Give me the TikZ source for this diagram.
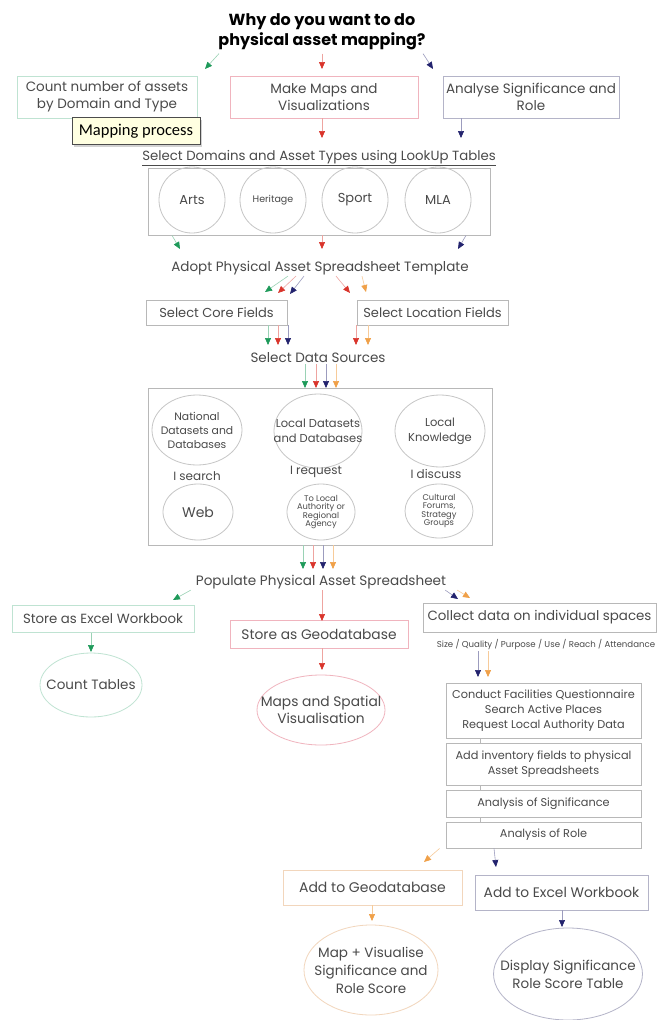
\documentclass[tikz,border=0pt]{standalone}
\usepackage{fontspec}
\setmainfont{Poppins}
\newfontfamily\tipfont{Carlito}
\usetikzlibrary{shapes.geometric,arrows.meta,shadows}
\definecolor{cg}{HTML}{1E9A5A}
\definecolor{cr}{HTML}{D9342B}
\definecolor{cn}{HTML}{23236E}
\definecolor{co}{HTML}{F0A048}
\definecolor{txt}{HTML}{4A4A4A}
\definecolor{bgray}{HTML}{B8B8B8}
\definecolor{bmint}{HTML}{BFE3D2}
\definecolor{bpink}{HTML}{F0B4BE}
\definecolor{bnavy}{HTML}{B4B4C8}
\definecolor{bpeach}{HTML}{F2D6BC}
\definecolor{tipbg}{HTML}{FFFFE1}
\newcommand\fsz[2]{\fontsize{#1}{#2}\selectfont}
\tikzset{
  box/.style={draw=bgray, line width=0.8pt, rectangle, align=center, text=txt, inner sep=0pt},
  ell/.style={draw=bgray!80, line width=0.8pt, ellipse, align=center, text=txt, inner sep=-15pt},
  lbl/.style={align=center, text=txt, inner sep=1pt},
  tip/.style={line width=0.6pt},
  ag/.style={tip, draw=cg!45, -{Triangle[length=7pt,width=6pt,fill=cg,color=cg]}},
  ar/.style={tip, draw=cr!45, -{Triangle[length=7pt,width=6pt,fill=cr,color=cr]}},
  an/.style={tip, draw=cn!45, -{Triangle[length=7pt,width=6pt,fill=cn,color=cn]}},
  ao/.style={tip, draw=co!55, -{Triangle[length=7pt,width=6pt,fill=co,color=co]}},
  link/.style={draw=bgray, line width=0.6pt},
}
\begin{document}
\begin{tikzpicture}[x=1pt,y=-1pt]
\useasboundingbox (0,0) rectangle (658,1020);
\fill[white] (0,0) rectangle (658,1020);

% title
\node[align=center, font=\bfseries\fsz{16}{20}] (title) at (322,32) {Why do you want to do\\physical asset mapping?};

% top boxes
\node[box, draw=bmint, minimum width=180, minimum height=42, font=\fsz{13.5}{17}] (b1) at (107,97) {Count number of assets\\by Domain and Type};
\node[box, draw=bpink, minimum width=188, minimum height=42, font=\fsz{13.5}{17}] (b2) at (324,97) {Make Maps and\\Visualizations};
\node[box, draw=bnavy, minimum width=176, minimum height=42, font=\fsz{13.5}{17}] (b3) at (531,97) {Analyse Significance and\\Role};
\node[draw=black!70, fill=tipbg, minimum width=128, minimum height=27, inner sep=2pt, font=\tipfont\fsz{16.5}{18}, drop shadow={shadow xshift=2pt, shadow yshift=-2pt, opacity=0.35}] (tipbox) at (136,131) {Mapping process};

\coordinate (t1) at (205,69);
\coordinate (t2) at (322,69);
\coordinate (t3) at (433,69);
\draw[ag] ([xshift=4]title.south west) -- (t1);
\draw[ar] (title.south -| t2) -- (t2);
\draw[an] ([xshift=-6]title.south east) -- (t3);

\coordinate (u2) at (322,138);
\coordinate (u3) at (461,138);
\draw[ar] (b2.south -| u2) -- (u2);
\draw[an] (b3.south -| u3) -- (u3);

% domains
\node[lbl, font=\fsz{13.3}{14}] (sel) at (319,158) {\underline{Select Domains and Asset Types using LookUp Tables}};
\node[box, minimum width=342, minimum height=67] (dom) at (319,201.5) {};
\node[ell, circle, minimum size=66, font=\fsz{13}{14}] (arts) at (192,200) {Arts};
\node[ell, circle, minimum size=66, font=\fsz{9.5}{12}] (herit) at (273,200) {Heritage};
\node[ell, circle, minimum size=66, font=\fsz{13}{14}] (sport) at (355,200) {Sport};
\node[ell, circle, minimum size=66, font=\fsz{13}{14}] (mla) at (438,200) {MLA};

\coordinate (d1) at (180,249);
\coordinate (d2) at (322,249);
\coordinate (d3) at (458,249);
\draw[ag] (dom.south -| 172,0) -- (d1);
\draw[ar] (dom.south -| d2) -- (d2);
\draw[an] (dom.south -| 466,0) -- (d3);

\node[lbl, font=\fsz{13.5}{16}] (adopt) at (320,268) {Adopt Physical Asset Spreadsheet Template};

\node[box, minimum width=141, minimum height=25, font=\fsz{13}{15}] (core) at (216.5,312.5) {Select Core Fields};
\node[box, minimum width=151, minimum height=25, font=\fsz{13}{15}] (loc) at (432.5,312.5) {Select Location Fields};

\coordinate (a1) at (265,292);
\coordinate (a2) at (278,293);
\coordinate (a3) at (290,294);
\coordinate (a4) at (350,293);
\coordinate (a5) at (366,292);
\draw[ag] (adopt.south -| 288,0) -- (a1);
\draw[ar] (adopt.south -| 296,0) -- (a2);
\draw[an] (adopt.south -| 304,0) -- (a3);
\draw[ar] (adopt.south -| 336,0) -- (a4);
\draw[ao] (adopt.south -| 362,0) -- (a5);

\coordinate (c1) at (268,345);
\coordinate (c2) at (278,345);
\coordinate (c3) at (288,345);
\coordinate (c4) at (356,345);
\coordinate (c5) at (368,345);
\draw[ag] (core.south -| c1) -- (c1);
\draw[ar] (core.south -| c2) -- (c2);
\draw[an] (core.south -| c3) -- (c3);
\draw[ar] (loc.south -| c4) -- (c4);
\draw[ao] (loc.south -| c5) -- (c5);

\node[lbl, font=\fsz{13.5}{16}] (ds) at (318,358) {Select Data Sources};

% data sources box
\node[box, minimum width=344, minimum height=157] (src) at (320,466.5) {};
\coordinate (e1) at (305,388);
\coordinate (e2) at (316,388);
\coordinate (e3) at (326,388);
\coordinate (e4) at (336,388);
\draw[ag] (ds.south -| e1) -- (e1);
\draw[ar] (ds.south -| e2) -- (e2);
\draw[an] (ds.south -| e3) -- (e3);
\draw[ao] (ds.south -| e4) -- (e4);

\node[ell, minimum width=90, minimum height=70, font=\fsz{10.8}{14}] (nat) at (197,430) {National\\Datasets and\\Databases};
\node[ell, minimum width=88, minimum height=74, font=\fsz{11.5}{15}] (locd) at (318,431) {Local Datasets\\and Databases};
\node[ell, minimum width=90, minimum height=72, font=\fsz{11.5}{15}] (lock) at (440,431) {Local\\Knowledge};
\node[lbl, font=\fsz{12}{13}] (srch) at (197,476) {I search};
\node[lbl, font=\fsz{12}{13}] (req) at (316,472) {I request};
\node[lbl, font=\fsz{12}{13}] (disc) at (436,474) {I discuss};
\node[ell, minimum width=70, minimum height=56, font=\fsz{14}{15}] (web) at (198,512) {Web};
\node[ell, minimum width=68, minimum height=56, font=\fsz{8.3}{8.6}] (auth) at (321,512) {To Local\\Authority or\\Regional\\Agency};
\node[ell, minimum width=68, minimum height=54, font=\fsz{8.3}{8.6}] (cult) at (439,511) {Cultural\\Forums,\\Strategy\\Groups};

\coordinate (f1) at (303,569);
\coordinate (f2) at (313,569);
\coordinate (f3) at (323,569);
\coordinate (f4) at (333,569);
\draw[ag] (src.south -| f1) -- (f1);
\draw[ar] (src.south -| f2) -- (f2);
\draw[an] (src.south -| f3) -- (f3);
\draw[ao] (src.south -| f4) -- (f4);

\node[lbl, font=\fsz{13.6}{16}] (pop) at (321,582) {Populate Physical Asset Spreadsheet};

% left branch
\node[box, draw=bmint, minimum width=182, minimum height=27, font=\fsz{13.3}{15}] (xl) at (103,619) {Store as Excel Workbook};
\node[ell, draw=bmint, minimum width=102, minimum height=64, font=\fsz{13.5}{15}] (cnt) at (91,685) {Count Tables};
\coordinate (p1) at (173,600);
\draw[ag] ([xshift=-4]pop.south west) -- (p1);
\coordinate (x1) at (91,652);
\draw[ag] (xl.south -| x1) -- (x1);
% middle branch
\node[box, draw=bpink, minimum width=178, minimum height=28, font=\fsz{13.8}{15}] (geo) at (319,634) {Store as Geodatabase};
\node[ell, draw=bpink, minimum width=122, minimum height=70, font=\fsz{13.8}{17}] (maps) at (321,710) {Maps and Spatial\\Visualisation};
\coordinate (p2) at (322,621);
\draw[ar] (pop.south -| p2) -- (p2);
\coordinate (g1) at (322,670);
\draw[ar] (geo.south -| g1) -- (g1);
% right branch
\node[box, minimum width=233, minimum height=29, font=\fsz{13.4}{16}] (coll) at (539.5,617.5) {Collect data on individual spaces};
\node[lbl, font=\fsz{8.6}{10}] (size) at (546,645) {Size / Quality / Purpose / Use / Reach / Attendance};
\coordinate (p3) at (458,599);
\coordinate (p4) at (470,598);
\draw[an] ([xshift=-2]pop.south east) -- (p3);
\draw[ao] ([xshift=10]pop.south east) -- (p4);
\coordinate (h1) at (478,677);
\coordinate (h2) at (488,677);
\draw[an] (size.south -| h1) -- (h1);
\draw[ao] (size.south -| h2) -- (h2);

\node[box, minimum width=195, minimum height=55, font=\fsz{11.3}{15}] (s1) at (543.5,710.5) {Conduct Facilities Questionnaire\\Search Active Places\\Request Local Authority Data};
\node[box, minimum width=195, minimum height=42, font=\fsz{11.3}{15}] (s2) at (543.5,764) {Add inventory fields to physical\\Asset Spreadsheets};
\node[box, minimum width=195, minimum height=27, font=\fsz{11.3}{14}] (s3) at (543.5,803.5) {Analysis of Significance};
\node[box, minimum width=195, minimum height=26, font=\fsz{11.3}{14}] (s4) at (543.5,835) {Analysis of Role};
\draw[link] (s1.south -| 480,0) -- (s2.north -| 480,0);
\draw[link] (s2.south -| 480,0) -- (s3.north -| 480,0);
\draw[link] (s3.south -| 480,0) -- (s4.north -| 480,0);

\node[box, draw=bpeach, minimum width=179, minimum height=35, font=\fsz{14}{15}] (geo2) at (372.5,887.5) {Add to Geodatabase};
\node[box, draw=bnavy, minimum width=173, minimum height=35, font=\fsz{13.8}{15}] (xl2) at (561.5,892.5) {Add to Excel Workbook};
\coordinate (r1) at (424,862);
\coordinate (r2) at (496,867);
\draw[ao] ([xshift=-6]s4.south west) -- (r1);
\draw[an] (s4.south -| 494,0) -- (r2);

\node[ell, draw=bpeach, minimum width=134, minimum height=90, font=\fsz{13.5}{18}] (mapvis) at (371,970) {Map + Visualise\\Significance and\\Role Score};
\node[ell, draw=bnavy, minimum width=140, minimum height=92, font=\fsz{13.5}{18}] (disp) at (568,974) {Display Significance\\Role Score Table};
\coordinate (m1) at (372,921);
\coordinate (m2) at (562,927);
\draw[ao] (geo2.south -| m1) -- (m1);
\draw[an] (xl2.south -| m2) -- (m2);
\end{tikzpicture}
\end{document}
